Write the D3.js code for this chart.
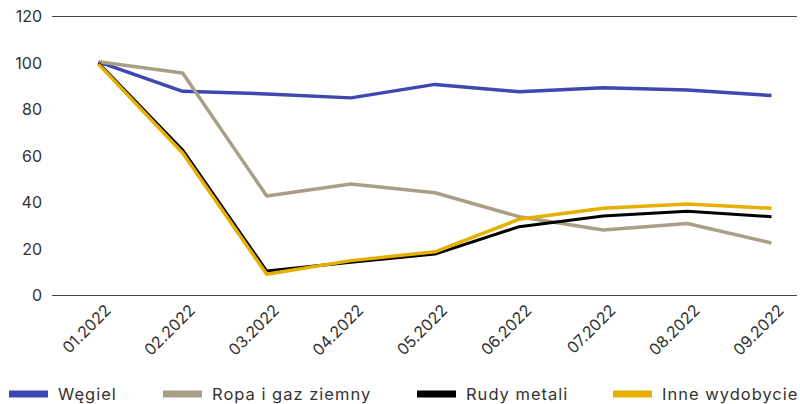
<!DOCTYPE html>
<html>
<head>
<meta charset="utf-8">
<script src="https://cdn.jsdelivr.net/npm/d3@7"></script>
<style>
  body { margin: 0; background: #fff; }
  svg { display: block; font-family: Inter, sans-serif; }
</style>
</head>
<body>
<svg id="chart" width="800" height="404"></svg>
<script>
// Index values (01.2022 = 100)
const months = ["01.2022", "02.2022", "03.2022", "04.2022", "05.2022", "06.2022", "07.2022", "08.2022", "09.2022"];
const wegiel = [100.5, 87.8, 86.7, 85.0, 90.8, 87.6, 89.4, 88.4, 86.0];
const ropaGaz = [100.5, 95.7, 42.8, 48.0, 44.2, 33.9, 28.2, 31.0, 22.6];
const rudyMetali = [100.0, 62.6, 10.5, 14.3, 17.8, 29.6, 34.2, 36.2, 33.9];
const inneWydobycie = [99.5, 61.3, 9.1, 15.0, 18.8, 32.8, 37.5, 39.4, 37.5];
const yTicks = [0, 20, 40, 60, 80, 100, 120];

const series = [
  { name: "Węgiel", values: wegiel, color: "#3f47b0", width: 3.5 },
  { name: "Ropa i gaz ziemny", values: ropaGaz, color: "#a99f89", width: 3.5 },
  { name: "Rudy metali", values: rudyMetali, color: "#000000", width: 3 },
  { name: "Inne wydobycie", values: inneWydobycie, color: "#e6b000", width: 3.5 },
];

const svg = d3.select("#chart");
const plotLeft = 52, plotRight = 797, plotTop = 16.5, plotBottom = 295.5;

const x = d3.scalePoint().domain(months).range([98.5, 771.5]);
const y = d3.scaleLinear().domain([0, 120]).range([plotBottom, plotTop]);

// only the 0 and 120 lines are drawn
svg.append("g")
  .selectAll("line")
  .data([0, 120])
  .join("line")
  .attr("x1", plotLeft).attr("x2", plotRight)
  .attr("y1", d => y(d)).attr("y2", d => y(d))
  .attr("stroke", "#444")
  .attr("stroke-width", 1);

// y axis labels
const yAxis = svg.append("g")
  .attr("transform", `translate(${plotLeft - 10},0)`)
  .call(d3.axisLeft(y).tickValues(yTicks).tickSize(0).tickPadding(0));
yAxis.select(".domain").remove();
yAxis.selectAll("text")
  .attr("font-size", "16px")
  .attr("font-family", "Inter, sans-serif")
  .attr("fill", "#333");

// x axis labels, rotated
const xAxis = svg.append("g")
  .attr("transform", `translate(0,${plotBottom})`)
  .call(d3.axisBottom(x).tickSize(0).tickPadding(0));
xAxis.select(".domain").remove();
xAxis.selectAll("text")
  .attr("font-size", "16px")
  .attr("font-family", "Inter, sans-serif")
  .attr("fill", "#333")
  .attr("text-anchor", "end")
  .attr("dy", "0.35em")
  .attr("transform", "translate(9,12) rotate(-45)");

// lines
const line = d3.line()
  .x((d, i) => x(months[i]))
  .y(d => y(d));

svg.append("g")
  .selectAll("path")
  .data(series)
  .join("path")
  .attr("d", d => line(d.values))
  .attr("fill", "none")
  .attr("stroke", d => d.color)
  .attr("stroke-width", d => d.width)
  .attr("stroke-linejoin", "round");

// legend
const legendX = [9, 163, 417, 613];
const legend = svg.append("g")
  .selectAll("g")
  .data(series)
  .join("g")
  .attr("transform", (d, i) => `translate(${legendX[i]},394)`);
legend.append("rect")
  .attr("x", 0).attr("y", -3.5)
  .attr("width", 39).attr("height", 7)
  .attr("fill", d => d.color);
legend.append("text")
  .attr("x", 49).attr("dy", "0.35em")
  .attr("font-size", "16.5px")
  .attr("letter-spacing", "1px")
  .attr("fill", "#333")
  .text(d => d.name);
</script>
</body>
</html>
